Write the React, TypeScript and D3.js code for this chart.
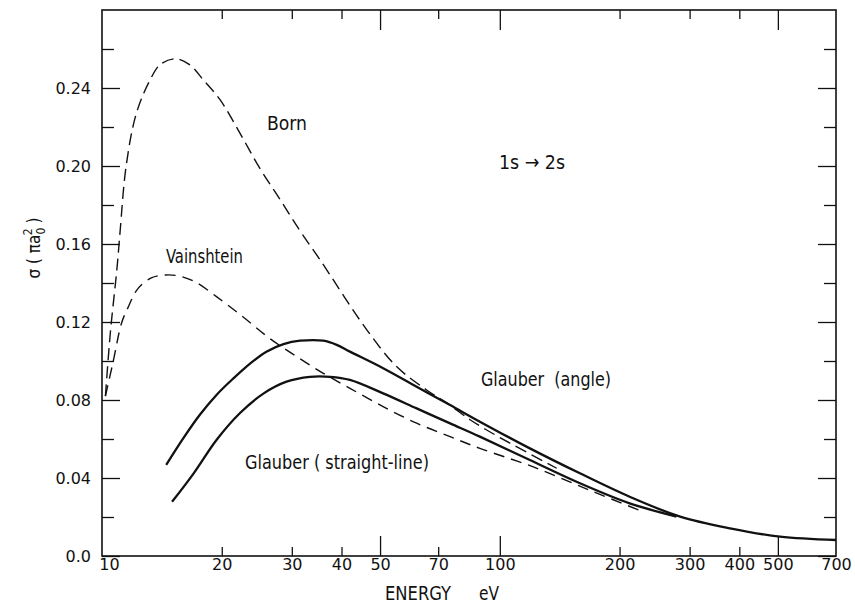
import { useEffect, useRef } from "react";
import * as d3 from "d3";

// energies in eV, cross sections in units of pi a0^2
const bornE = [10.2, 10.5, 10.9, 11.1, 11.5, 12.2, 13.2, 14.0, 15.3, 16.6, 18.0, 19.8, 22.2, 24.9, 28.0, 31.4, 35.3, 46.3, 55.1, 65.6, 73.6, 84.0, 92, 108, 139];
const bornSigma = [0.082, 0.115, 0.147, 0.166, 0.2, 0.227, 0.244, 0.252, 0.255, 0.252, 0.244, 0.234, 0.217, 0.199, 0.183, 0.167, 0.152, 0.116, 0.097, 0.085, 0.0785, 0.07, 0.065, 0.057, 0.045];

const vainE = [10.2, 10.65, 11.2, 11.6, 12.3, 13.3, 14.4, 15.6, 17.1, 19.4, 22.6, 26.4, 30.9, 36.0, 42.0, 50.9, 61.8, 75.0, 89.1, 121, 168, 229];
const vainSigma = [0.082, 0.099, 0.1195, 0.127, 0.137, 0.1426, 0.1441, 0.1436, 0.1407, 0.133, 0.1227, 0.1116, 0.1022, 0.0937, 0.086, 0.0766, 0.0681, 0.0612, 0.0552, 0.0458, 0.0338, 0.0227];

const angleE = [14.5, 16.0, 17.6, 19.4, 21.4, 23.6, 25.9, 28.6, 31.5, 36.0, 38.9, 42.0, 50.9, 61.8, 75.0, 89.1, 119, 159, 212, 284, 379, 506, 700];
const angleSigma = [0.0467, 0.0603, 0.0723, 0.0826, 0.0911, 0.0988, 0.1048, 0.1087, 0.1104, 0.1104, 0.1083, 0.1048, 0.0963, 0.0868, 0.0774, 0.0689, 0.0552, 0.0424, 0.0304, 0.0202, 0.0142, 0.0099, 0.0082];

const straightE = [15.0, 17.0, 19.4, 22.2, 25.5, 29.1, 33.3, 37.5, 42.0, 50.9, 61.8, 75.0, 89.1, 119, 159, 212, 278];
const straightSigma = [0.0278, 0.0424, 0.0595, 0.0732, 0.0834, 0.0894, 0.0919, 0.0919, 0.0903, 0.0834, 0.0757, 0.068, 0.0612, 0.0492, 0.0373, 0.027, 0.0202];

const xTicks = [10, 20, 30, 40, 50, 70, 100, 200, 300, 400, 500, 700];
const xLongTicks = [50, 100, 500];
const yMajor = [0, 0.04, 0.08, 0.12, 0.16, 0.2, 0.24];
const yMinor = [0.02, 0.06, 0.1, 0.14, 0.18, 0.22, 0.26];
const yLabels = ["0.0", "0.04", "0.08", "0.12", "0.16", "0.20", "0.24"];

const W = 855;
const H = 611;
const left = 102, right = 836, top = 10, bottom = 556;
const FONT = "'DejaVu Sans Condensed', 'Liberation Sans Narrow', 'DejaVu Sans', sans-serif";
const TICK_FONT = "'DejaVu Sans', sans-serif";

export default function App() {
  const ref = useRef<SVGGElement>(null);

  useEffect(() => {
    const svg = d3.select(ref.current);
    svg.selectAll("*").remove();

    const x = d3.scaleLog().domain([10, 700]).range([left, right]);
    const y = d3.scaleLinear().domain([0, 0.28]).range([bottom, top]);

    const styleAxis = (g: any) => {
      g.select(".domain").remove();
      g.selectAll("line").attr("stroke", "#111").attr("stroke-width", 1.3);
      g.selectAll("text").attr("fill", "#111").style("font-family", TICK_FONT).style("font-size", "16px");
    };

    // left axis
    svg.append("g").attr("transform", `translate(${left},0)`)
      .call(d3.axisLeft(y).tickValues(yMajor).tickSize(-18).tickPadding(11)
        .tickFormat((_, i) => yLabels[i]))
      .call(styleAxis);
    svg.append("g").attr("transform", `translate(${left},0)`)
      .call(d3.axisLeft(y).tickValues(yMinor).tickSize(-12).tickFormat(() => ""))
      .call(styleAxis);
    // right axis
    svg.append("g").attr("transform", `translate(${right},0)`)
      .call(d3.axisRight(y).tickValues(yMajor).tickSize(-18).tickFormat(() => ""))
      .call(styleAxis);
    svg.append("g").attr("transform", `translate(${right},0)`)
      .call(d3.axisRight(y).tickValues(yMinor).tickSize(-12).tickFormat(() => ""))
      .call(styleAxis);

    // bottom axis
    const shortTicks = xTicks.filter((t) => t !== 10 && t !== 700 && !xLongTicks.includes(t));
    svg.append("g").attr("transform", `translate(0,${bottom})`)
      .call(d3.axisBottom(x).tickValues(xTicks).tickSize(0).tickPadding(3)
        .tickFormat((d) => String(d)))
      .call(styleAxis)
      .call((g: any) => g.selectAll("text").filter((d: number) => d === 10).attr("dx", 7));
    svg.append("g").attr("transform", `translate(0,${bottom})`)
      .call(d3.axisBottom(x).tickValues(shortTicks).tickSize(-9).tickFormat(() => ""))
      .call(styleAxis);
    svg.append("g").attr("transform", `translate(0,${bottom})`)
      .call(d3.axisBottom(x).tickValues(xLongTicks).tickSize(-20).tickFormat(() => ""))
      .call(styleAxis);
    // top axis
    svg.append("g").attr("transform", `translate(0,${top})`)
      .call(d3.axisTop(x).tickValues(shortTicks).tickSize(-9).tickFormat(() => ""))
      .call(styleAxis);
    svg.append("g").attr("transform", `translate(0,${top})`)
      .call(d3.axisTop(x).tickValues(xLongTicks).tickSize(-20).tickFormat(() => ""))
      .call(styleAxis);

    // frame
    svg.append("rect")
      .attr("x", left).attr("y", top)
      .attr("width", right - left).attr("height", bottom - top)
      .attr("fill", "none").attr("stroke", "#111").attr("stroke-width", 1.6);

    const line = d3.line<[number, number]>()
      .x((d) => x(d[0]))
      .y((d) => y(d[1]))
      .curve(d3.curveCatmullRom.alpha(0.5));

    const series = [
      { e: bornE, s: bornSigma, dash: "12,6", w: 1.4 },
      { e: vainE, s: vainSigma, dash: "11,7", w: 1.4 },
      { e: angleE, s: angleSigma, dash: null, w: 2.3 },
      { e: straightE, s: straightSigma, dash: null, w: 2.3 },
    ];
    series.forEach((sr) => {
      const pts = sr.e.map((e, i) => [e, sr.s[i]] as [number, number]);
      svg.append("path")
        .attr("d", line(pts))
        .attr("fill", "none")
        .attr("stroke", "#111")
        .attr("stroke-width", sr.w)
        .attr("stroke-dasharray", sr.dash);
    });
  }, []);

  const label = { fontFamily: FONT, fontSize: 20, fill: "#111", style: { whiteSpace: "pre" } } as const;

  return (
    <svg width={W} height={H}
      style={{ position: "absolute", left: 0, top: 0, background: "#fff" }}>
      <g ref={ref} />
      <text {...label} x={267} y={130} textLength={40} lengthAdjust="spacingAndGlyphs">Born</text>
      <text {...label} x={166} y={263} textLength={77} lengthAdjust="spacingAndGlyphs">Vainshtein</text>
      <text {...label} x={499} y={169} textLength={66} lengthAdjust="spacingAndGlyphs">1s → 2s</text>
      <text {...label} x={481} y={386} textLength={130} lengthAdjust="spacingAndGlyphs">Glauber  (angle)</text>
      <text {...label} x={245} y={469} textLength={184} lengthAdjust="spacingAndGlyphs">Glauber ( straight-line)</text>
      <text {...label} x={385} y={600} textLength={66} lengthAdjust="spacingAndGlyphs">ENERGY</text>
      <text {...label} x={479} y={600} textLength={20} lengthAdjust="spacingAndGlyphs">eV</text>
      <text {...label} fontSize={17} textAnchor="middle" transform="translate(40,248) rotate(-90)">
        σ ( πa
        <tspan fontSize={12} dy={5}>0</tspan>
        <tspan fontSize={12} dx={-7.5} dy={-13}>2</tspan>
        <tspan dy={8}> )</tspan>
      </text>
    </svg>
  );
}
